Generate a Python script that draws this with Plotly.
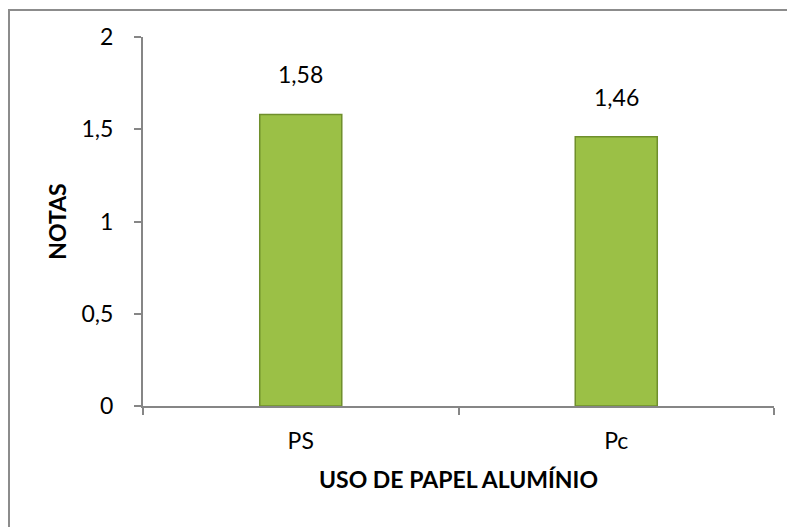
import plotly.graph_objects as go

categories = ["PS", "Pc"]
values = [1.58, 1.46]
value_labels = ["1,58", "1,46"]
y_ticks = [0, 0.5, 1, 1.5, 2]
y_tick_labels = ["0", "0,5", "1", "1,5", "2"]
x_title = "USO DE PAPEL ALUMÍNIO"
y_title = "NOTAS"

FONT = "Lato, 'Open Sans', sans-serif"
# the page body adds an 8px margin, so the figure is 8px smaller
W, H = 787, 519
L, R, T, B = 135, 21, 29, 121
pw, ph = W - L - R, H - T - B
bottom = T + ph

fig = go.Figure()
fig.add_trace(go.Bar(
    x=categories, y=values, width=0.26,
    marker=dict(color="#9bc046", line=dict(color="#6f8f2c", width=1.5)),
    hoverinfo="skip",
))

for c, v, t in zip(categories, values, value_labels):
    fig.add_annotation(x=c, y=v, text=t, showarrow=False, yshift=40,
                       font=dict(family=FONT, size=23, color="#000"))

# x-axis title placed as an annotation below the tick labels
fig.add_annotation(xref="paper", yref="paper", x=0.5, y=(bottom - 471) / ph,
                   xanchor="center", yanchor="middle",
                   text="<b>" + x_title + "</b>", showarrow=False,
                   font=dict(family=FONT, size=23, color="#000"))

# outer border of the chart frame
fig.add_shape(type="rect", xref="paper", yref="paper",
              x0=(1 - L) / pw, x1=(820 - L) / pw,
              y0=(bottom - 560) / ph, y1=(bottom - 2) / ph,
              line=dict(color="#8c8c8c", width=2), layer="below")

fig.update_layout(
    width=W, height=H,
    margin=dict(l=L, r=R, t=T, b=B, autoexpand=False),
    paper_bgcolor="white", plot_bgcolor="white",
    showlegend=False,
    font=dict(family=FONT, size=23, color="#000"),
)
fig.update_xaxes(
    showline=True, linecolor="#868686", linewidth=2,
    ticks="outside", tickson="boundaries", ticklen=7, tickcolor="#868686", tickwidth=2,
    ticklabelstandoff=13,
    showgrid=False, zeroline=False,
)
fig.update_yaxes(
    range=[0, 2], tickvals=y_ticks, ticktext=y_tick_labels,
    showline=True, linecolor="#868686", linewidth=2,
    ticks="outside", ticklen=7, tickcolor="#868686", tickwidth=2,
    ticklabelstandoff=16,
    title=dict(text="<b>" + y_title + "</b>", standoff=8,
               font=dict(family=FONT, size=23)),
    showgrid=False, zeroline=False,
)

fig.write_html("out.html")
